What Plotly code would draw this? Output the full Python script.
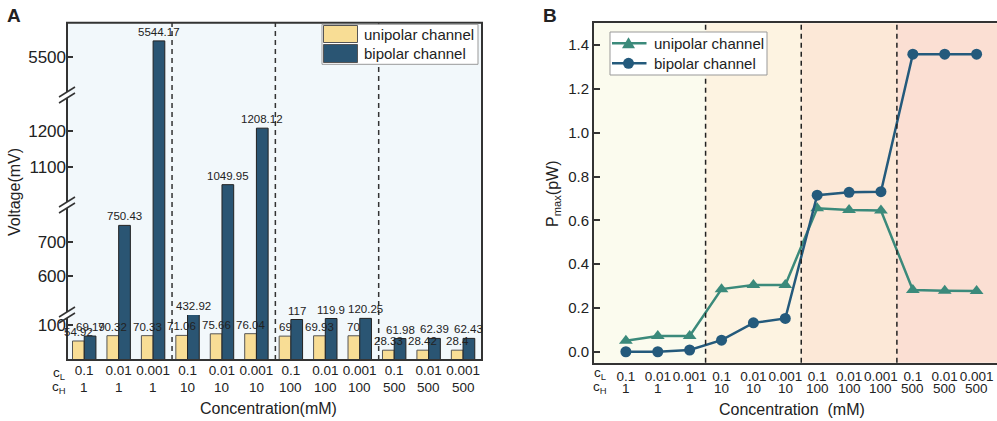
import plotly.graph_objects as go

# ---------------- data ----------------
cl_labels = ["0.1", "0.01", "0.001"] * 4
ch_labels = ["1"] * 3 + ["10"] * 3 + ["100"] * 3 + ["500"] * 3
series_names = ["unipolar channel", "bipolar channel"]

voltage_uni = [54.92, 70.32, 70.33, 71.06, 75.66, 76.04, 69, 69.93, 70, 28.33, 28.42, 28.4]
voltage_bi = [69.19, 750.43, 5544.17, 432.92, 1049.95, 1208.12, 117, 119.9, 120.25, 61.98, 62.39, 62.43]
voltage_uni_txt = ["54.92", "70.32", "70.33", "71.06", "75.66", "76.04", "69", "69.93", "70", "28.33", "28.42", "28.4"]
voltage_bi_txt = ["69.19", "750.43", "5544.17", "432.92", "1049.95", "1208.12", "117", "119.9", "120.25", "61.98", "62.39", "62.43"]

pmax_uni = [0.05, 0.072, 0.072, 0.286, 0.305, 0.305, 0.655, 0.647, 0.645, 0.282, 0.279, 0.278]
pmax_bi = [0.0, 0.0, 0.008, 0.053, 0.132, 0.152, 0.715, 0.728, 0.731, 1.359, 1.359, 1.359]

# broken axis segments (value ranges) for panel A
seg_ranges = [(0, 130), (484, 811), (993, 1301), (5393, 5595)]
seg_ticks = [[100], [600, 700], [1100, 1200], [5500]]

# ---------------- styling helpers ----------------
W, H = 997, 421
def px(x):
    return x / W
def py(y):
    return 1 - y / H

FONT = "Liberation Sans, Arial, sans-serif"
C_UNI_BAR = "#f8dd95"
C_BI_BAR = "#2a5573"
C_UNI_LINE = "#3b8a7b"
C_BI_LINE = "#245a7c"
AXC = "#333333"
TXT = "#222222"

xA0, xA1 = px(67), px(482)
seg_px = [(360, 315), (315, 205), (205, 95), (95, 22.7)]
seg_dom = [(py(b), py(t)) for b, t in seg_px]

xB0, xB1 = px(594), 1.0
yB0, yB1 = py(362.7), py(23.3)

fig = go.Figure()
idx = list(range(len(cl_labels)))
bw = 0.34

# ---------------- panel A bars ----------------
for s in range(len(seg_ranges)):
    yname = "y" if s == 0 else f"y{s+1}"
    fig.add_trace(go.Bar(x=idx, y=voltage_uni, width=bw, offset=-bw, name=series_names[0],
                         marker=dict(color=C_UNI_BAR, line=dict(color="#555555", width=1)),
                         xaxis="x", yaxis=yname, showlegend=False, hoverinfo="skip"))
    fig.add_trace(go.Bar(x=idx, y=voltage_bi, width=bw, offset=0, name=series_names[1],
                         marker=dict(color=C_BI_BAR, line=dict(color="#222222", width=1)),
                         xaxis="x", yaxis=yname, showlegend=False, hoverinfo="skip"))

annotations = []

def seg_for(v):
    for s, (lo, hi) in enumerate(seg_ranges):
        if lo <= v <= hi:
            return s, v
    best = 0
    for s, (lo, hi) in enumerate(seg_ranges):
        if hi < v:
            best = s
    return best, seg_ranges[best][1]

for vals, txts, off in ((voltage_uni, voltage_uni_txt, -bw / 2), (voltage_bi, voltage_bi_txt, bw / 2)):
    for i, (v, t) in enumerate(zip(vals, txts)):
        s, yv = seg_for(v)
        yref = "y" if s == 0 else f"y{s+1}"
        annotations.append(dict(x=i + off, y=yv, xref="x", yref=yref, text=t, showarrow=False,
                                yanchor="bottom", xanchor="center", yshift=1,
                                font=dict(size=11.5, color=TXT, family=FONT)))

# ---------------- panel B lines ----------------
fig.add_trace(go.Scatter(x=idx, y=pmax_uni, mode="lines+markers", name=series_names[0],
                         line=dict(color=C_UNI_LINE, width=2.5),
                         marker=dict(symbol="triangle-up", size=12, color=C_UNI_LINE),
                         xaxis="x2", yaxis="y5", showlegend=False))
fig.add_trace(go.Scatter(x=idx, y=pmax_bi, mode="lines+markers", name=series_names[1],
                         line=dict(color=C_BI_LINE, width=2.5),
                         marker=dict(symbol="circle", size=11, color=C_BI_LINE),
                         xaxis="x2", yaxis="y5", showlegend=False))

# ---------------- axes ----------------
XT = 13.5
tickfont_x = dict(size=XT, color=TXT, family=FONT)
layout_axes = {}
layout_axes["xaxis"] = dict(domain=[xA0, xA1], anchor="y", range=[-0.5, 11.55],
                            tickmode="array", tickvals=idx, ticktext=cl_labels, tickangle=0,
                            showline=False, showgrid=False, zeroline=False, ticks="",
                            tickfont=tickfont_x)
for s, (rng, tv) in enumerate(zip(seg_ranges, seg_ticks)):
    key = "yaxis" if s == 0 else f"yaxis{s+1}"
    layout_axes[key] = dict(domain=list(seg_dom[s]), anchor="x", range=list(rng),
                            tickmode="array", tickvals=tv, ticks="inside", ticklen=6,
                            tickcolor=AXC, tickwidth=1.5,
                            showline=False, showgrid=False, zeroline=False,
                            tickfont=dict(size=17, color=TXT, family=FONT))

layout_axes["xaxis2"] = dict(domain=[xB0, xB1], anchor="y5", range=[-1, 11.64],
                             tickmode="array", tickvals=idx, ticktext=cl_labels, tickangle=0,
                             showline=True, linecolor=AXC, linewidth=2, mirror=True,
                             showgrid=False, zeroline=False, ticks="", tickfont=tickfont_x)
layout_axes["yaxis5"] = dict(domain=[yB0, yB1], anchor="x2", range=[-0.05, 1.5],
                             tickmode="array", tickvals=[0, 0.2, 0.4, 0.6, 0.8, 1.0, 1.2, 1.4],
                             tickformat=".1f", ticks="inside", ticklen=6, tickcolor=AXC, tickwidth=1.5,
                             showline=True, linecolor=AXC, linewidth=2, mirror=False,
                             showgrid=False, zeroline=False,
                             tickfont=dict(size=15, color=TXT, family=FONT))

# second row of tick labels (c_H values)
for xa, yy in (("x", 387), ("x2", 388)):
    for i, lab in enumerate(ch_labels):
        annotations.append(dict(x=i, y=py(yy), xref=xa, yref="paper", text=lab, showarrow=False,
                                xanchor="center", yanchor="middle",
                                font=dict(size=XT, color=TXT, family=FONT)))

# ---------------- shapes ----------------
shapes = []
# panel B shaded regions
region_edges = [-1, 2.5, 5.5, 8.5, 11.64]
region_colors = ["#fbfbee", "#fdf3e1", "#fce8d7", "#fbdfd3"]
for k in range(4):
    shapes.append(dict(type="rect", xref="x2", yref="y5 domain", x0=region_edges[k], x1=region_edges[k + 1],
                       y0=0, y1=1, fillcolor=region_colors[k], line=dict(width=0), layer="below"))
# dashed separators
for xv in (2.5, 5.5, 8.5):
    shapes.append(dict(type="line", xref="x2", yref="y5 domain", x0=xv, x1=xv, y0=0, y1=1,
                       line=dict(color="#222222", width=1.5, dash="5px,4px")))
    shapes.append(dict(type="line", xref="x", yref="paper", x0=xv + 0.05, x1=xv + 0.05,
                       y0=seg_dom[0][0], y1=seg_dom[-1][1],
                       line=dict(color="#333333", width=1.5, dash="5px,4px")))
# panel A frame
shapes.append(dict(type="rect", xref="paper", yref="paper", x0=xA0, x1=xA1,
                   y0=seg_dom[0][0], y1=seg_dom[-1][1], line=dict(color=AXC, width=2)))
# break marks
for s in range(1, len(seg_dom)):
    yb = seg_dom[s][0]
    shapes.append(dict(type="rect", xref="paper", yref="paper", x0=xA0 - px(2), x1=xA0 + px(2),
                       y0=yb - 3 / H, y1=yb + 3 / H, fillcolor="white", line=dict(width=0)))
    for dy in (-3, 3):
        shapes.append(dict(type="line", xref="paper", yref="paper",
                           x0=xA0 - px(8), x1=xA0 + px(8),
                           y0=yb + (dy - 5) / H, y1=yb + (dy + 5) / H,
                           line=dict(color=AXC, width=1.5)))
# custom legend panel A
shapes.append(dict(type="rect", xref="paper", yref="paper", x0=px(322), x1=px(478),
                   y0=py(64.3), y1=py(24.3), fillcolor="white", line=dict(color="#999999", width=1)))
leg_colors = [C_UNI_BAR, C_BI_BAR]
leg_rows = [(25.5, 42.5), (44.5, 62.5)]
for (t, b), c, nm in zip(leg_rows, leg_colors, series_names):
    shapes.append(dict(type="rect", xref="paper", yref="paper", x0=px(323.5), x1=px(357.5),
                       y0=py(b), y1=py(t), fillcolor=c, line=dict(color="#555555", width=1)))
    annotations.append(dict(x=px(362), y=py((t + b) / 2), xref="paper", yref="paper", text=nm,
                            showarrow=False, xanchor="left", yanchor="middle",
                            font=dict(size=15, color=TXT, family=FONT)))

# custom legend panel B
shapes.append(dict(type="rect", xref="paper", yref="paper", x0=px(610), x1=px(767),
                   y0=py(75), y1=py(32), fillcolor="white", line=dict(color="#999999", width=1)))
legB = [(43.3, C_UNI_LINE, "tri", series_names[0]), (63.3, C_BI_LINE, "circ", series_names[1])]
for yy, c, sym, nm in legB:
    shapes.append(dict(type="line", xref="paper", yref="paper", x0=px(612), x1=px(646.5),
                       y0=py(yy), y1=py(yy), line=dict(color=c, width=2.5)))
    cx = 628.5
    if sym == "circ":
        r = 5.5
        shapes.append(dict(type="circle", xref="paper", yref="paper", x0=px(cx - r), x1=px(cx + r),
                           y0=py(yy + r), y1=py(yy - r), fillcolor=c, line=dict(color=c, width=0)))
    else:
        pth = (f"M {px(cx - 6.5)},{py(yy + 5)} L {px(cx + 6.5)},{py(yy + 5)} "
               f"L {px(cx)},{py(yy - 6)} Z")
        shapes.append(dict(type="path", xref="paper", yref="paper", path=pth,
                           fillcolor=c, line=dict(color=c, width=0)))
    annotations.append(dict(x=px(651.5), y=py(yy), xref="paper", yref="paper", text=nm,
                            showarrow=False, xanchor="left", yanchor="middle",
                            font=dict(size=15, color=TXT, family=FONT)))

# ---------------- text annotations ----------------
def txt(x, y, text, size=15, **kw):
    d = dict(x=px(x), y=py(y), xref="paper", yref="paper", text=text, showarrow=False,
             xanchor="center", yanchor="middle",
             font=dict(size=size, color=TXT, family=FONT))
    d.update(kw)
    annotations.append(d)

txt(14, 15, "<b>A</b>", size=19)
txt(550, 15, "<b>B</b>", size=19)
for xx in (59, 600):
    txt(xx, 373, "c<sub>L</sub>", size=XT)
    txt(xx, 387, "c<sub>H</sub>", size=XT)
txt(268, 408, "Concentration(mM)", size=16)
txt(792, 409, "Concentration  (mM)", size=16)
txt(15, 192, "Voltage(mV)", size=16, textangle=-90)
txt(553, 194, "P<sub>max</sub>(pW)", size=16, textangle=-90)

fig.update_layout(
    width=W, height=H, autosize=False,
    margin=dict(l=0, r=0, t=0, b=0),
    paper_bgcolor="white", plot_bgcolor="#f2f8fb",
    font=dict(family=FONT, color=TXT),
    barmode="overlay",
    shapes=shapes, annotations=annotations,
    showlegend=False,
    **layout_axes,
)

fig.write_html("out.html", config={"displayModeBar": False},
               post_script="document.body.style.margin='0';document.body.style.overflow='hidden';")
